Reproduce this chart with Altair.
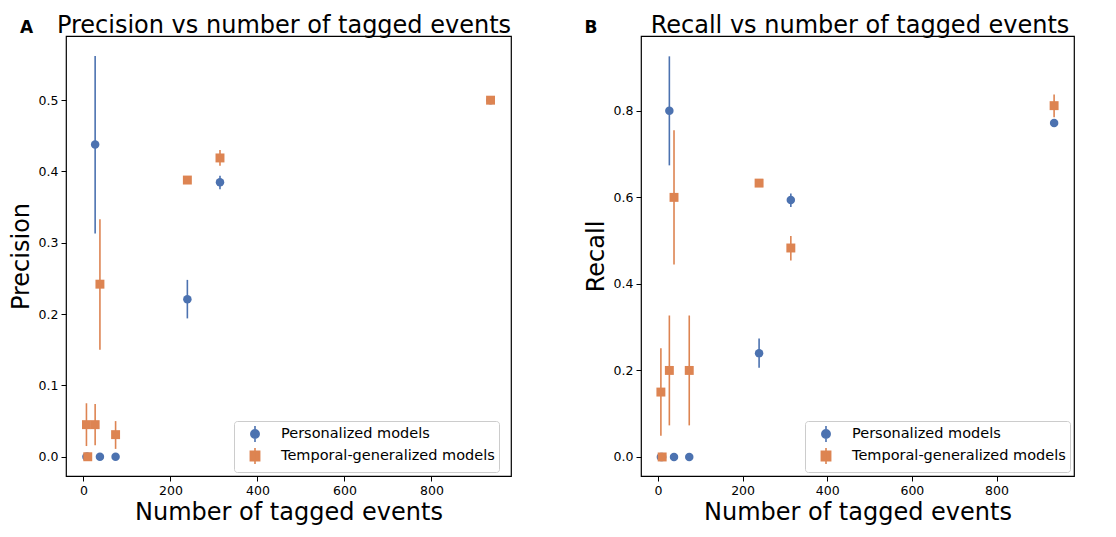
import altair as alt
import pandas as pd

# ---- data ----
events = [7, 10, 27, 38, 74, 239, 314, 936]

prec_pers = [0.0, 0.0, 0.438, 0.0, 0.0, 0.221, 0.385, 0.5]
prec_pers_lo = [0.0, 0.0, 0.313, 0.0, 0.0, 0.194, 0.375, 0.5]
prec_pers_hi = [0.0, 0.0, 0.562, 0.0, 0.0, 0.248, 0.394, 0.5]

prec_temp = [0.045, 0.0, 0.045, 0.242, 0.031, 0.388, 0.419, 0.5]
prec_temp_lo = [0.015, 0.0, 0.016, 0.150, 0.011, 0.386, 0.408, 0.5]
prec_temp_hi = [0.075, 0.0, 0.074, 0.333, 0.050, 0.390, 0.430, 0.5]

rec_pers = [0.0, 0.0, 0.8, 0.0, 0.0, 0.24, 0.594, 0.772]
rec_pers_lo = [0.0, 0.0, 0.674, 0.0, 0.0, 0.206, 0.578, 0.766]
rec_pers_hi = [0.0, 0.0, 0.926, 0.0, 0.0, 0.274, 0.609, 0.778]

rec_temp = [0.15, 0.0, 0.2, 0.6, 0.2, 0.633, 0.483, 0.812]
rec_temp_lo = [0.049, 0.0, 0.073, 0.445, 0.073, 0.630, 0.454, 0.785]
rec_temp_hi = [0.251, 0.0, 0.327, 0.755, 0.327, 0.636, 0.511, 0.838]

models = ["Personalized models", "Temporal-generalized models"]
colors = ["#4C72B0", "#DD8452"]

x_ticks = [0, 200, 400, 600, 800]
prec_ticks = [0.0, 0.1, 0.2, 0.3, 0.4, 0.5]
rec_ticks = [0.0, 0.2, 0.4, 0.6, 0.8]

FONT = "DejaVu Sans"

# legend symbols: marker with a vertical error-bar line through it
LEG_CIRCLE = "M0,-1L0,1M-0.52,0A0.52,0.52,0,1,0,0.52,0A0.52,0.52,0,1,0,-0.52,0Z"
LEG_SQUARE = "M0,-1L0,1M-0.58,-0.58L0.58,-0.58L0.58,0.58L-0.58,0.58Z"


def make_df(v1, l1, h1, v2, l2, h2):
    rows = []
    for m, v, lo, hi in [(models[0], v1, l1, h1), (models[1], v2, l2, h2)]:
        for x, a, b, c in zip(events, v, lo, hi):
            rows.append({"events": x, "value": a, "lo": b, "hi": c, "model": m})
    return pd.DataFrame(rows)


def panel(df, letter, title, ytitle, ydomain, yticks, width, letter_x, title_x, leg_x):
    xenc = alt.X("events:Q", scale=alt.Scale(domain=[-40, 983], nice=False, zero=False),
                 axis=alt.Axis(values=x_ticks, title="Number of tagged events", format="d"))
    yenc = alt.Y("value:Q", scale=alt.Scale(domain=ydomain, nice=False, zero=False),
                 axis=alt.Axis(values=yticks, title=ytitle, format=".1f"))
    cscale = alt.Scale(domain=models, range=colors)

    leg = alt.Legend(title=None, orient="none", legendX=leg_x, legendY=385,
                     labelFontSize=14.5, labelLimit=400, labelFont=FONT, labelColor="black",
                     rowPadding=-2, padding=4, symbolSize=256, symbolStrokeWidth=1.6,
                     symbolOpacity=1, labelOffset=17, symbolOffset=8,
                     strokeColor="#cccccc", fillColor="white", cornerRadius=3)

    base = alt.Chart(df)
    bars = base.mark_rule(strokeWidth=1.6).encode(
        x=xenc, y=alt.Y("lo:Q"), y2="hi:Q",
        stroke=alt.Stroke("model:N", scale=cscale, legend=leg),
    )
    circles = base.transform_filter(alt.datum.model == models[0]).mark_point(
        filled=True, opacity=1, size=72, shape="circle").encode(
        x=xenc, y=yenc,
        color=alt.Color("model:N", scale=cscale, legend=leg),
    )
    squares = base.transform_filter(alt.datum.model == models[1]).mark_point(
        filled=True, opacity=1, size=80, shape="square").encode(
        x=xenc, y=yenc,
        color=alt.Color("model:N", scale=cscale, legend=leg),
    )
    ghost = base.mark_point(filled=True, opacity=0, size=1).encode(
        x=xenc, y=yenc,
        color=alt.Color("model:N", scale=cscale, legend=leg),
        shape=alt.Shape("model:N", scale=alt.Scale(domain=models, range=[LEG_CIRCLE, LEG_SQUARE]),
                        legend=leg),
    )
    lab = alt.Chart(pd.DataFrame({"t": [letter]})).mark_text(
        font=FONT, fontWeight="bold", fontSize=17, align="center", baseline="alphabetic",
        color="black").encode(text="t:N", x=alt.value(letter_x), y=alt.value(-3))
    ttl = alt.Chart(pd.DataFrame({"t": [title]})).mark_text(
        font=FONT, fontSize=24, align="center", baseline="alphabetic",
        color="black").encode(text="t:N", x=alt.value(title_x), y=alt.value(-3))

    return alt.layer(bars, circles, squares, ghost, lab, ttl).properties(width=width, height=440)


left = panel(make_df(prec_pers, prec_pers_lo, prec_pers_hi, prec_temp, prec_temp_lo, prec_temp_hi),
             "A", "Precision vs number of tagged events", "Precision", [-0.027, 0.59],
             prec_ticks, 445, -39.5, 218, 168)
right = panel(make_df(rec_pers, rec_pers_lo, rec_pers_hi, rec_temp, rec_temp_lo, rec_temp_hi),
              "B", "Recall vs number of tagged events", "Recall", [-0.044, 0.973],
              rec_ticks, 433, -50, 219, 164)

chart = alt.hconcat(left, right, spacing=71).resolve_scale(
    color="independent", shape="independent", stroke="independent"
).resolve_legend(color="independent", shape="independent", stroke="independent").configure_view(
    stroke="black", strokeWidth=1.2
).configure_axis(
    domain=False, ticks=True, tickColor="black", tickSize=5, tickWidth=1,
    labelFont=FONT, labelFontSize=12.5, labelColor="black", labelPadding=3,
    titleFont=FONT, titleFontSize=24, titleFontWeight="normal", titleColor="black",
    grid=False,
).configure_axisX(titlePadding=4).configure_axisY(titlePadding=5).properties(
    padding={"left": 0, "top": 5, "right": 5, "bottom": 5}
)

chart.save("out.html", embed_options={"renderer": "svg", "actions": False})
